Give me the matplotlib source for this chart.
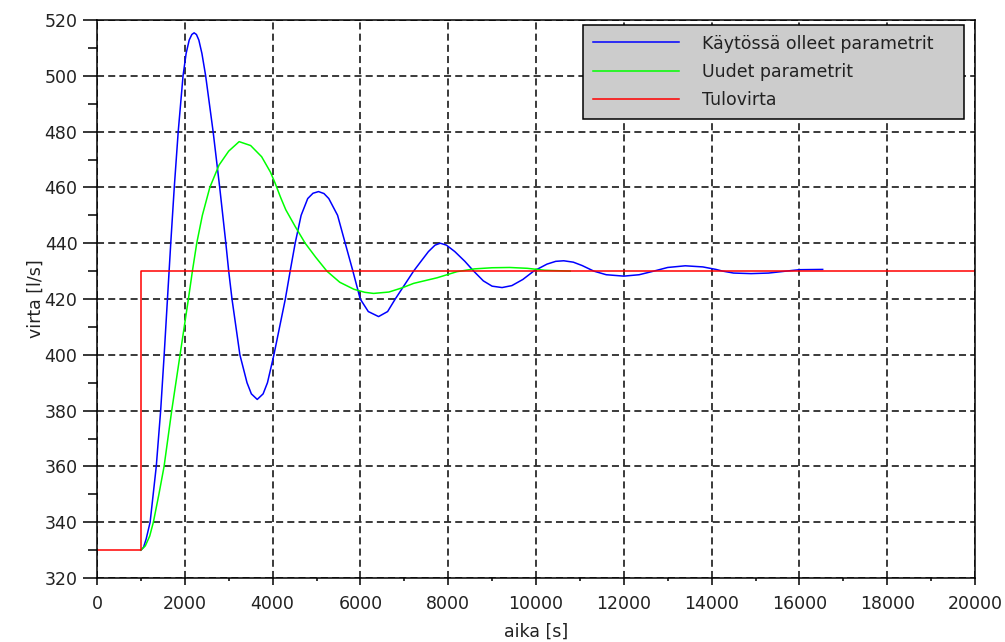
import matplotlib
matplotlib.use("Agg")
import matplotlib.pyplot as plt
from matplotlib.ticker import MultipleLocator

# step input (Tulovirta)
t_in = [0, 1000, 1000, 20000]
v_in = [330, 330, 430, 430]

# old parameters (Käytössä olleet parametrit)
t_old = [1000, 1060, 1120, 1210, 1350, 1450, 1530, 1605, 1680, 1760, 1850, 1960, 2030, 2100,
         2160, 2212, 2265, 2320, 2390, 2475, 2645, 2795, 2935, 3000, 3075, 3255, 3417, 3516,
         3650, 3784, 3883, 4030, 4160, 4290, 4400, 4514, 4650, 4800, 4920, 5046, 5170, 5280,
         5480, 5654, 5829, 5996, 6180, 6414, 6620, 6794, 7212, 7380, 7550, 7700, 7820, 7960,
         8150, 8380, 8580, 8800, 9000, 9227, 9450, 9700, 9948, 10250, 10450, 10632, 10850,
         11050, 11316, 11600, 12000, 12350, 12684, 13000, 13400, 13800, 14100, 14250, 14500,
         14900, 15300, 15700, 16000, 16530]
v_old = [330, 331, 334, 340, 360, 380, 400, 420, 440, 460, 480, 500, 508, 512.8,
         514.8, 515.4, 514.8, 512.8, 508, 500, 480, 460, 440, 430, 420, 400, 390, 386,
         384, 386, 390, 400, 410, 420, 430, 440, 450, 456, 457.9, 458.5, 457.8, 456,
         450, 440, 430, 420, 415.5, 413.7, 415.5, 420, 430, 433.5, 437, 439.3, 440, 439.3,
         437, 433.5, 430, 426.5, 424.6, 424.1, 424.8, 427, 430, 432.5, 433.5, 433.7, 433.2,
         432, 430, 428.7, 428.2, 428.7, 430, 431.3, 431.9, 431.5, 430.6, 430, 429.3,
         429.1, 429.3, 430, 430.5, 430.6]

# new parameters (Uudet parametrit)
t_new = [1000, 1100, 1200, 1284, 1410, 1528, 1702, 1892, 2082, 2173, 2272, 2400, 2570, 2780,
         3000, 3238, 3500, 3750, 3950, 4058, 4180, 4300, 4514, 4742, 4980, 5236, 5530, 5850,
         6100, 6300, 6650, 6950, 7212, 7745, 8200, 8600, 9000, 9400, 9800, 10200, 10780]
v_new = [330, 331.5, 335, 340, 350, 360, 380, 400, 420, 430, 440, 450, 460, 468,
         473, 476.4, 475, 471, 465.5, 461.5, 456.5, 452, 446, 440, 435, 430, 426, 423.5,
         422.4, 422, 422.5, 424, 425.6, 427.6, 429.8, 430.8, 431.2, 431.3, 431, 430.3, 430]

labels = ["Käytössä olleet parametrit", "Uudet parametrit", "Tulovirta"]

W, H = 1005, 642
fig = plt.figure(figsize=(W / 100, H / 100), dpi=100)
ax = fig.add_axes([97 / W, 1 - 578 / H, 878 / W, 558 / H])

ax.plot(t_old, v_old, color="#0000ff", lw=1.1, label=labels[0])
ax.plot(t_new, v_new, color="#00ff00", lw=1.1, label=labels[1])
ax.plot(t_in, v_in, color="#ff0000", lw=1.1, label=labels[2])

ax.set_xlim(0, 20000)
ax.set_ylim(320, 520)
ax.xaxis.set_major_locator(MultipleLocator(2000))
ax.xaxis.set_minor_locator(MultipleLocator(1000))
ax.yaxis.set_major_locator(MultipleLocator(20))
ax.yaxis.set_minor_locator(MultipleLocator(10))

ax.grid(True, which="major", color="#2b2b2b", lw=1.3, linestyle=(0, (3.9, 2.3)))
ax.set_axisbelow(True)

for s in ax.spines.values():
    s.set_linewidth(1.1)
    s.set_color("black")

ax.tick_params(axis="x", which="major", direction="out", length=5, width=1.1, pad=7, labelsize=12.5)
ax.tick_params(axis="x", which="minor", direction="out", length=2.3, width=1.1)
ax.tick_params(axis="y", which="major", direction="out", length=10, width=1.1, pad=4, labelsize=12.5)
ax.tick_params(axis="y", which="minor", direction="out", length=6.5, width=1.1)
for lab in ax.get_xticklabels() + ax.get_yticklabels():
    lab.set_color("#222222")

ax.set_xlabel("aika [s]", fontsize=12.5, color="#222222", labelpad=7)
ax.set_ylabel("virta [l/s]", fontsize=12.5, color="#222222", labelpad=0)

leg = ax.legend(loc="upper left", bbox_to_anchor=(583 / W, 1 - 118 / H, 381 / W, 93 / H),
                bbox_transform=fig.transFigure, mode="expand", borderaxespad=0,
                fontsize=12.5, handlelength=5.0, handletextpad=1.3, labelspacing=0.6,
                borderpad=0.55, fancybox=False, framealpha=1)
leg.get_frame().set_facecolor("#cccccc")
leg.get_frame().set_edgecolor("black")
leg.get_frame().set_linewidth(1.1)
for txt in leg.get_texts():
    txt.set_color("#222222")

fig.savefig("out.png", dpi=100)
